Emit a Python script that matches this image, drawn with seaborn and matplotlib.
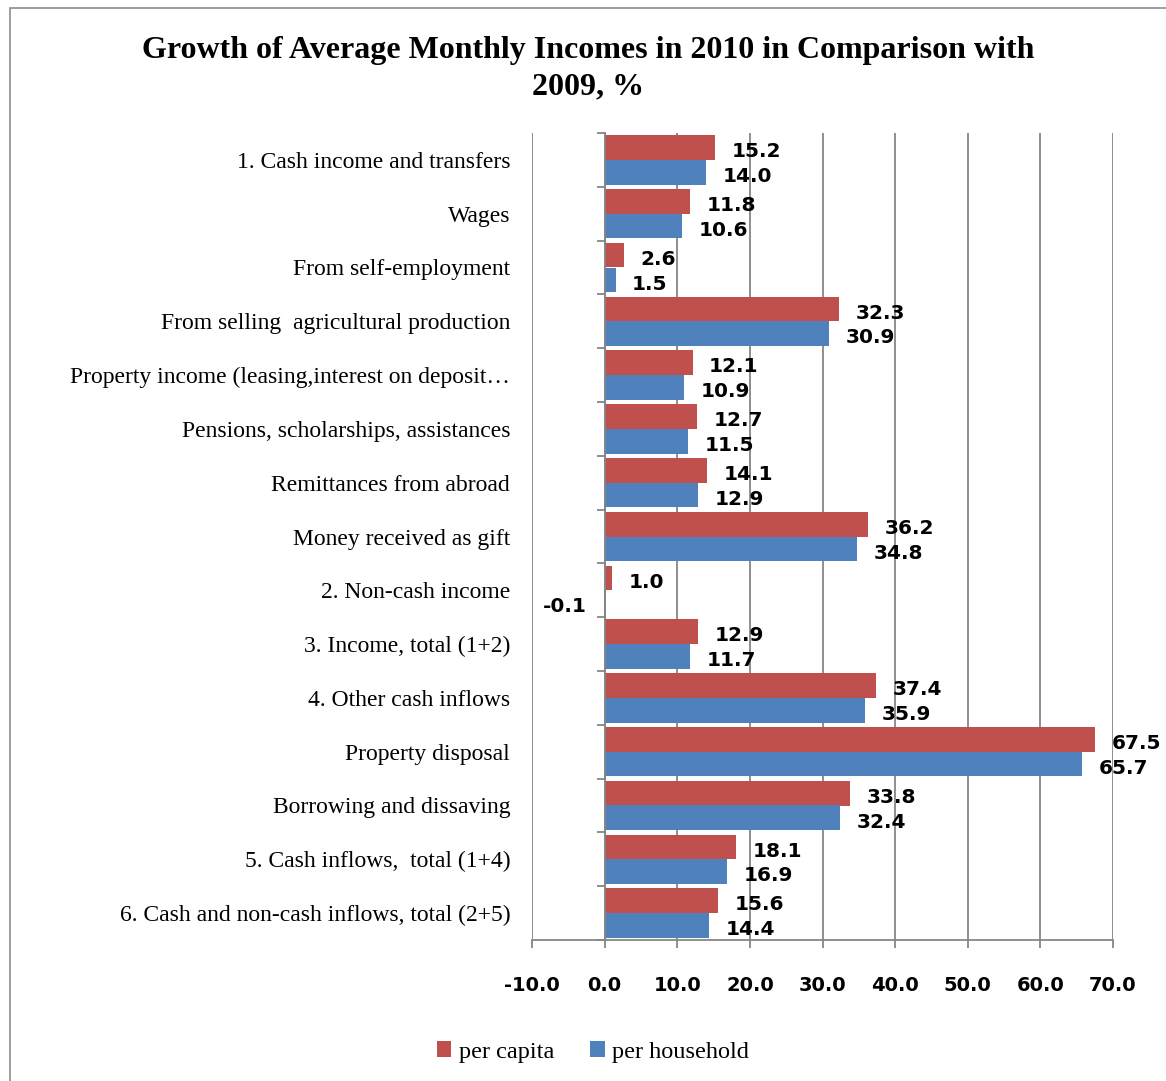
import numpy as np
import pandas as pd
import matplotlib
matplotlib.use('Agg')
import matplotlib.pyplot as plt
import matplotlib.transforms as mtransforms
from matplotlib.patches import Rectangle
import seaborn as sns

# data
categories = [
    '1. Cash income and transfers',
    'Wages',
    'From self-employment',
    'From selling  agricultural production',
    'Property income (leasing,interest on deposit…',
    'Pensions, scholarships, assistances',
    'Remittances from abroad',
    'Money received as gift',
    '2. Non-cash income',
    '3. Income, total (1+2)',
    '4. Other cash inflows',
    'Property disposal',
    'Borrowing and dissaving',
    '5. Cash inflows,  total (1+4)',
    '6. Cash and non-cash inflows, total (2+5)',
]
per_capita = [15.2, 11.8, 2.6, 32.3, 12.1, 12.7, 14.1, 36.2, 1.0, 12.9, 37.4, 67.5, 33.8, 18.1, 15.6]
per_household = [14.0, 10.6, 1.5, 30.9, 10.9, 11.5, 12.9, 34.8, -0.1, 11.7, 35.9, 65.7, 32.4, 16.9, 14.4]
series_names = ['per capita', 'per household']
x_ticks = [-10, 0, 10, 20, 30, 40, 50, 60, 70]

df = pd.DataFrame({
    'category': categories * 2,
    'series': [series_names[0]] * len(categories) + [series_names[1]] * len(categories),
    'value': per_capita + per_household,
})

sns.set_theme(style='white')
plt.rcParams['font.family'] = ['Liberation Serif', 'DejaVu Serif']
plt.rcParams['text.color'] = 'black'
plt.rcParams['xtick.labelcolor'] = 'black'
plt.rcParams['ytick.labelcolor'] = 'black'

fig = plt.figure(figsize=(11.66, 10.81), dpi=100)
ax = fig.add_axes([532 / 1166, 1 - 940 / 1081, (1113 - 532) / 1166, (940 - 133) / 1081])

sns.barplot(data=df, y='category', x='value', hue='series', orient='h',
            palette=['#C0504D', '#4F81BD'], width=0.92, gap=0, linewidth=0,
            saturation=1, ax=ax, legend=True, zorder=3)

# value labels
for cont in ax.containers:
    anns = ax.bar_label(cont, fmt='%.1f', padding=12, color='black',
                        fontfamily='DejaVu Sans', fontweight='bold', fontsize=14.5)
    for a in anns:
        a.xyann = (a.xyann[0], -3)

gray = '#868686'
ax.set_xlim(-10, 70)
ax.set_ylim(len(categories) - 0.5, -0.5)
ax.set_xticks(x_ticks)
ax.set_xticklabels([f'{v:.1f}' for v in x_ticks],
                   fontfamily='DejaVu Sans', fontweight='bold', fontsize=14)
ax.grid(axis='x', color=gray, lw=1.3, zorder=0)
ax.set_axisbelow(True)

for s in ['top', 'right']:
    ax.spines[s].set_visible(False)
ax.spines['left'].set_position(('data', 0))
ax.spines['left'].set_color(gray)
ax.spines['left'].set_linewidth(1.3)
ax.spines['left'].set_zorder(4)
ax.spines['bottom'].set_color(gray)
ax.spines['bottom'].set_linewidth(1.3)

ax.set_yticks(np.arange(len(categories)))
ax.set_yticklabels(categories, fontsize=17)
shift = mtransforms.ScaledTranslation(0, -3 / 100, fig.dpi_scale_trans)
for t in ax.get_yticklabels():
    t.set_transform(t.get_transform() + shift)
ax.set_yticks(np.arange(len(categories) + 1) - 0.5, minor=True)
ax.tick_params(axis='y', which='major', length=0, pad=68)
ax.tick_params(axis='y', which='minor', length=5.5, width=1.3, color=gray, direction='out', left=True)
ax.tick_params(axis='x', length=6, width=1.3, color=gray, direction='out', bottom=True, pad=20)
ax.set_xlabel('')
ax.set_ylabel('')

fig.suptitle('Growth of Average Monthly Incomes in 2010 in Comparison with\n2009, %',
             x=588 / 1166, y=1 - 36 / 1081, fontsize=23, fontweight='bold', linespacing=1.33)

handles, labels = ax.get_legend_handles_labels()
ax.get_legend().remove()
fig.legend(handles, labels, loc='center', bbox_to_anchor=(593 / 1166, 1 - 1052 / 1081),
           ncol=2, frameon=False, fontsize=17.5, handlelength=0.6, handleheight=0.6,
           handletextpad=0.3, columnspacing=1.5)

# outer chart border
fig.patches.append(Rectangle((10 / 1166, -0.1), 1.2, 1.1 - 8 / 1081, transform=fig.transFigure,
                             fill=False, edgecolor='#8c8c8c', lw=1.2))

fig.savefig('out.png', dpi=100)
